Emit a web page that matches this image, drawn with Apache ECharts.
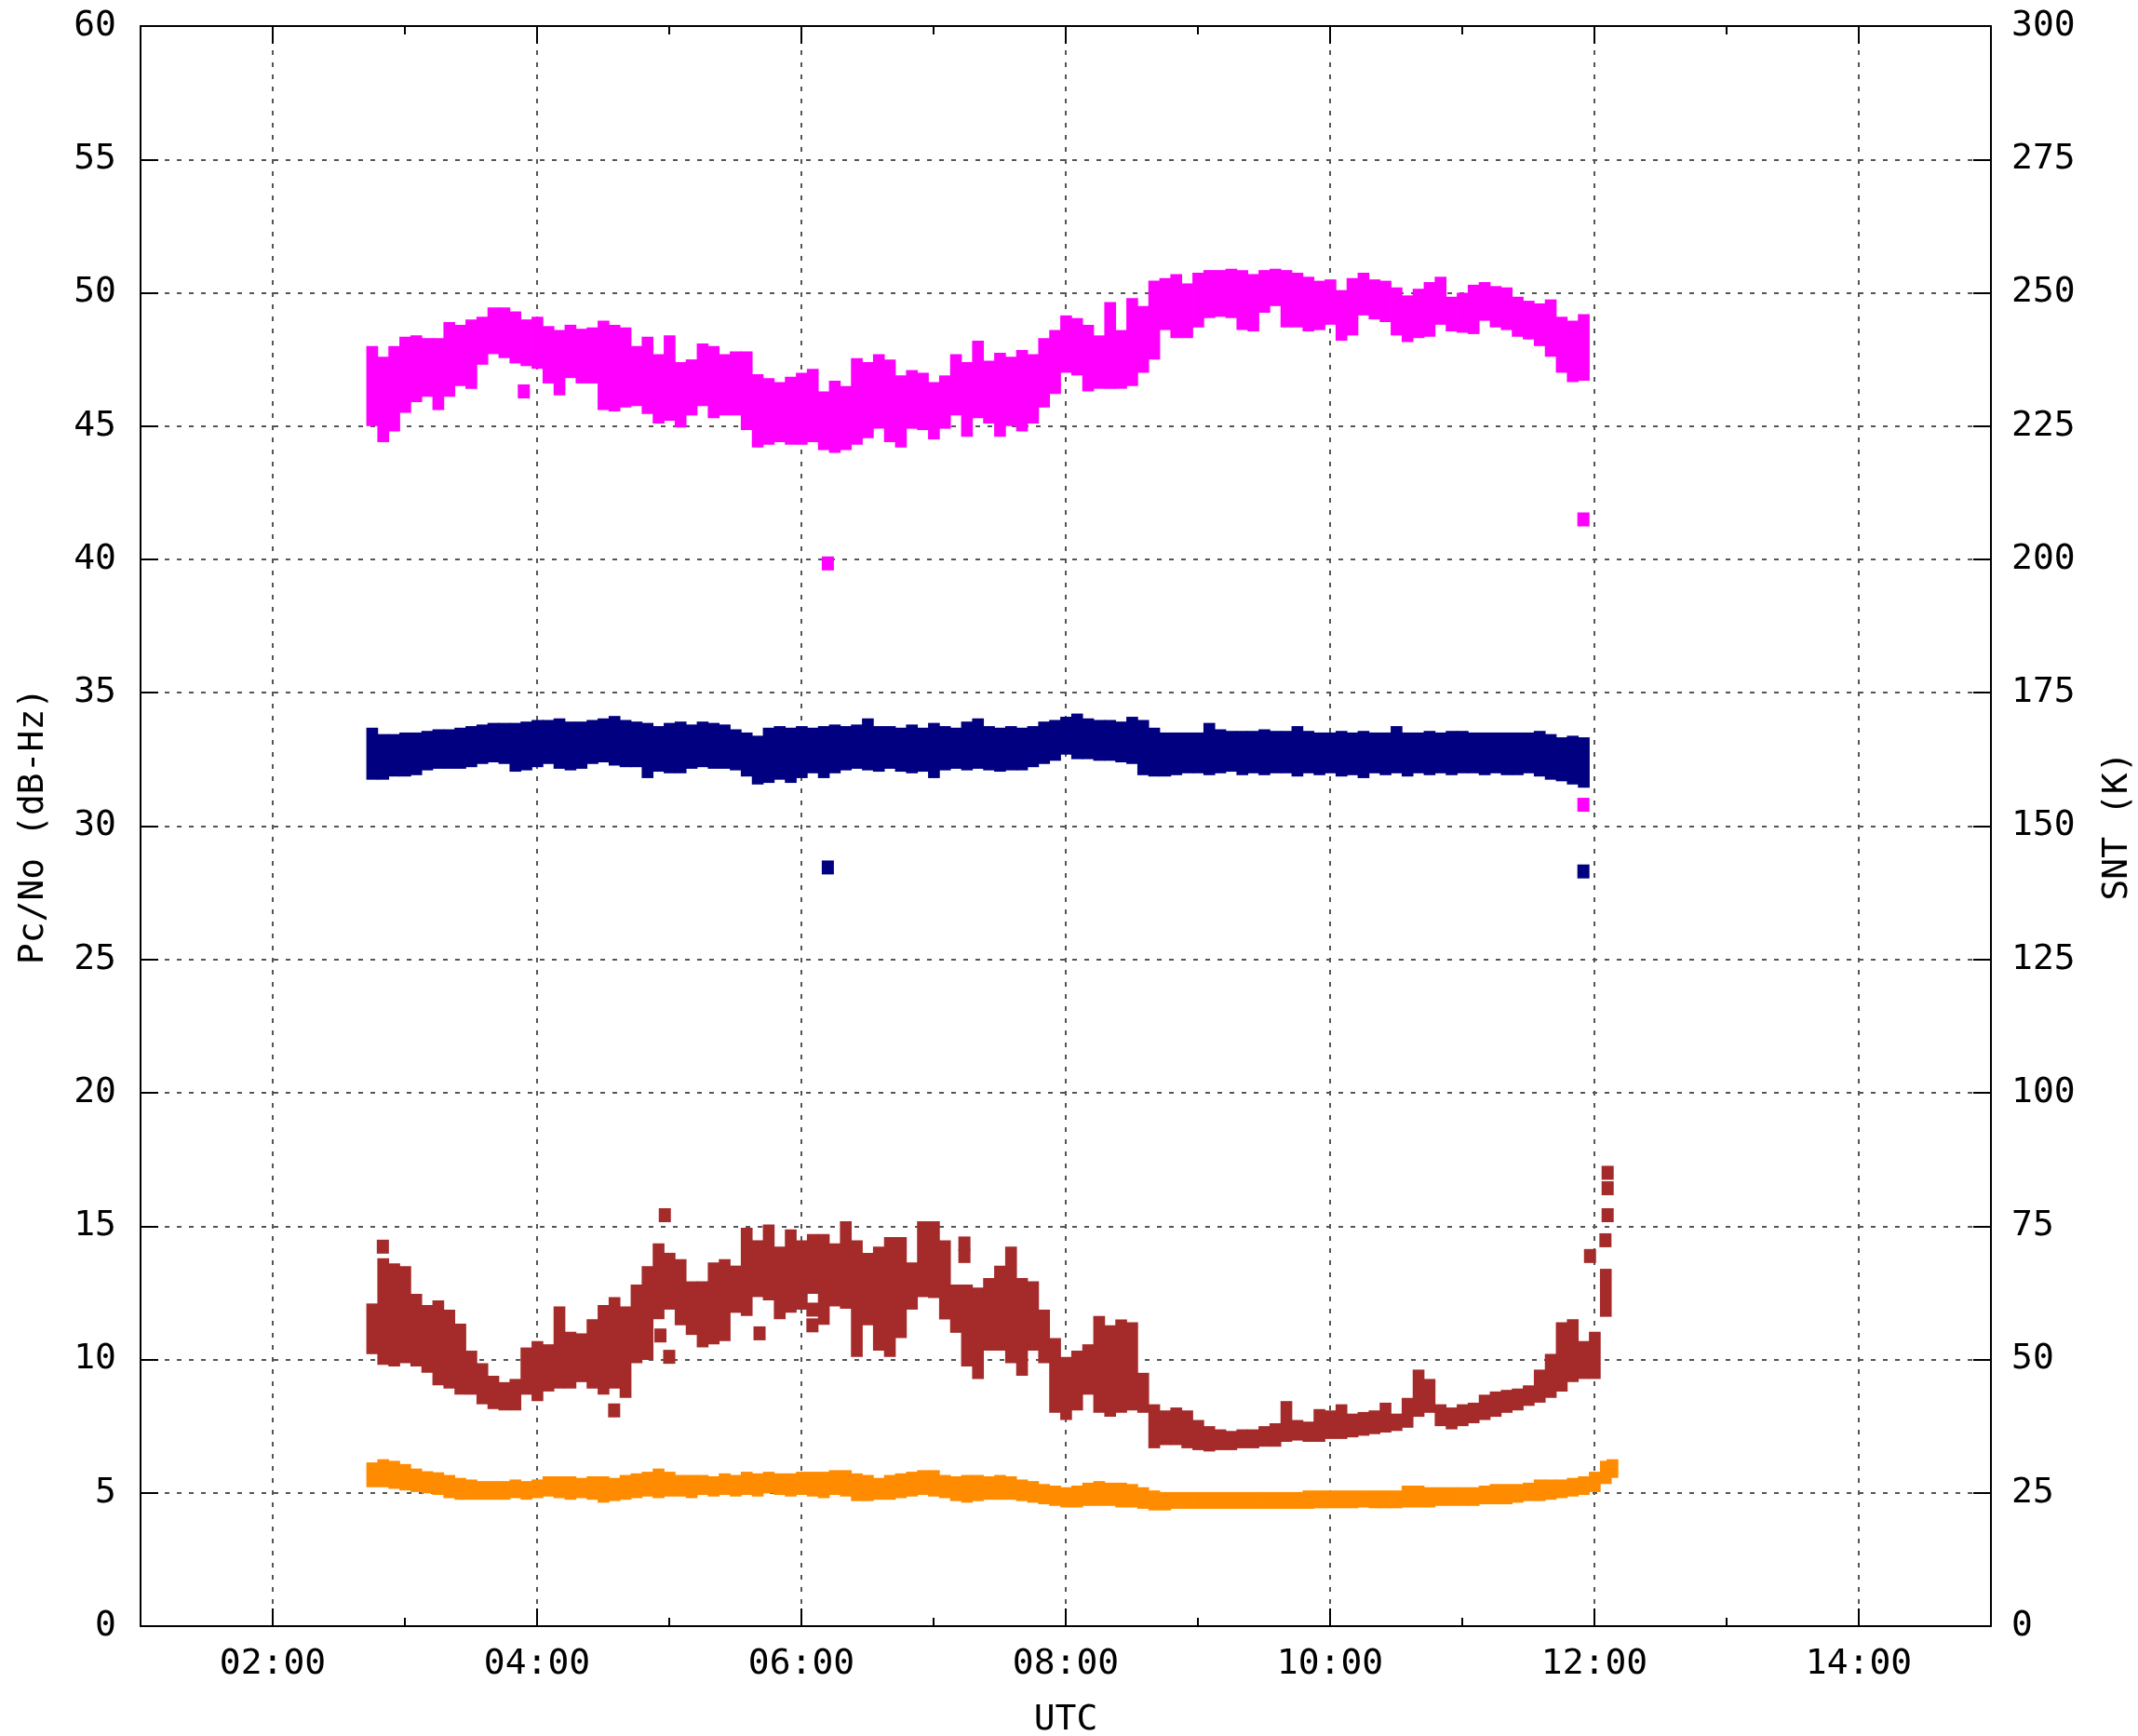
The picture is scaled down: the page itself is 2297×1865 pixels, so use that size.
<!DOCTYPE html>
<html><head><meta charset="utf-8">
<script src="https://cdn.jsdelivr.net/npm/echarts@6/dist/echarts.min.js"></script>
<style>html,body{margin:0;padding:0;background:#fff}#c{width:2297px;height:1865px}</style>
</head><body><div id="c"></div><script>
// Sample times (5-minute bins), UTC
const times = ["02:45","02:50","02:55","03:00","03:05","03:10","03:15","03:20","03:25","03:30","03:35","03:40","03:45","03:50","03:55",
"04:00","04:05","04:10","04:15","04:20","04:25","04:30","04:35","04:40","04:45","04:50","04:55",
"05:00","05:05","05:10","05:15","05:20","05:25","05:30","05:35","05:40","05:45","05:50","05:55",
"06:00","06:05","06:10","06:15","06:20","06:25","06:30","06:35","06:40","06:45","06:50","06:55",
"07:00","07:05","07:10","07:15","07:20","07:25","07:30","07:35","07:40","07:45","07:50","07:55",
"08:00","08:05","08:10","08:15","08:20","08:25","08:30","08:35","08:40","08:45","08:50","08:55",
"09:00","09:05","09:10","09:15","09:20","09:25","09:30","09:35","09:40","09:45","09:50","09:55",
"10:00","10:05","10:10","10:15","10:20","10:25","10:30","10:35","10:40","10:45","10:50","10:55",
"11:00","11:05","11:10","11:15","11:20","11:25","11:30","11:35","11:40","11:45","11:50","11:55",
"12:00","12:05","12:08"];

// Pc/No (dB-Hz), magenta: upper / lower envelope per bin
const magentaHi = [48.0,47.6,48.0,48.35,48.4,48.3,48.3,48.9,48.8,49.0,
49.1,49.45,49.45,49.3,49.0,49.1,48.75,48.6,48.8,48.65,
48.7,48.95,48.8,48.7,48.0,48.35,47.7,48.4,47.4,47.5,
48.1,48.0,47.7,47.8,47.8,46.95,46.8,46.65,46.85,47.0,
47.15,46.3,46.7,46.5,47.55,47.4,47.7,47.5,46.9,47.1,
47.0,46.65,46.9,47.7,47.4,48.2,47.45,
47.75,47.6,47.85,47.7,48.3,48.6,49.15,49.05,48.8,48.4,
49.65,48.6,49.8,49.5,50.45,50.55,50.7,50.35,50.75,50.85,
50.85,50.9,50.85,50.7,50.85,50.9,50.85,50.75,50.6,50.45,
50.5,50.1,50.55,50.75,50.5,50.45,50.2,49.9,50.15,50.4,
50.6,49.85,50.0,50.3,50.4,50.25,50.2,49.85,49.7,49.6,
49.75,49.1,48.95,49.2];
const magentaLo = [45.0,44.4,44.8,45.5,45.9,46.1,45.6,46.1,46.5,46.4,
47.3,47.7,47.55,47.35,47.25,47.15,46.6,46.15,46.8,46.6,
46.6,45.6,45.55,45.7,45.75,45.45,45.1,45.2,44.95,45.4,
45.75,45.3,45.4,45.4,44.85,44.2,44.3,44.4,44.3,44.3,
44.4,44.1,44.0,44.1,44.3,44.55,44.9,44.4,44.2,44.9,
44.85,44.5,44.9,45.4,44.6,45.3,45.1,
44.6,45.0,44.8,45.1,45.7,46.2,47.0,46.9,46.3,46.4,
46.4,46.4,46.5,47.0,47.5,48.6,48.3,48.3,48.7,49.05,
49.1,49.05,48.6,48.55,49.25,49.5,48.7,48.7,48.55,48.6,
48.8,48.2,48.4,49.15,49.0,48.9,48.4,48.15,48.3,48.35,
48.8,48.55,48.5,48.45,48.95,48.7,48.6,48.35,48.25,48.0,
47.6,47.0,46.65,46.7];

// Pc/No (dB-Hz), navy
const navyHi = [33.69,33.45,33.45,33.51,33.51,33.57,33.63,33.63,33.69,33.75,
33.81,33.87,33.87,33.87,33.92,33.98,33.98,34.04,33.92,33.92,
33.98,34.04,34.13,33.98,33.92,33.87,33.75,33.87,33.92,33.81,
33.92,33.87,33.81,33.63,33.51,33.39,33.69,33.75,33.69,33.75,
33.69,33.75,33.81,33.75,33.81,34.04,33.75,33.75,33.69,33.81,
33.69,33.87,33.75,33.69,33.92,34.04,33.75,33.69,33.75,33.69,
33.75,33.92,33.98,34.1,34.22,34.04,33.98,33.98,33.92,34.1,
33.98,33.69,33.51,33.51,33.51,33.51,33.87,33.63,33.57,33.57,
33.57,33.63,33.57,33.57,33.75,33.57,33.51,33.51,33.57,33.51,
33.57,33.51,33.51,33.75,33.51,33.51,33.57,33.51,33.57,33.57,
33.51,33.51,33.51,33.51,33.51,33.51,33.57,33.45,33.33,33.39,
33.33];
const navyLo = [31.74,31.74,31.86,31.86,31.91,32.09,32.15,32.15,32.15,32.21,
32.33,32.39,32.33,32.04,32.09,32.21,32.33,32.15,32.09,32.15,
32.33,32.39,32.27,32.21,32.21,31.8,32.04,31.98,31.98,32.15,
32.21,32.15,32.15,32.09,31.86,31.56,31.62,31.74,31.62,31.8,
31.98,31.8,31.98,32.09,32.15,32.09,32.04,32.15,32.04,31.98,
32.04,31.8,32.09,32.15,32.09,32.15,32.09,32.04,32.09,32.09,
32.21,32.33,32.45,32.68,32.51,32.51,32.45,32.45,32.39,32.33,
31.91,31.86,31.86,31.91,31.98,31.98,31.91,31.98,32.04,31.91,
31.98,31.91,31.98,31.98,31.86,31.98,31.91,31.98,31.86,31.91,
31.8,31.98,31.91,31.98,31.86,31.98,31.91,31.98,31.91,31.98,
31.98,31.91,31.98,31.91,31.91,31.98,31.86,31.74,31.68,31.56,
31.44];

// SNT (K), brown
const brownHi = [60.5,69.0,68.0,67.5,62.3,60.2,61.1,59.35,56.7,51.65,
49.3,46.95,45.75,46.35,52.25,53.45,52.85,59.95,55.2,54.9,
57.55,60.2,61.7,59.95,64.05,67.5,71.75,70.0,68.8,64.65,
64.65,68.2,68.8,67.6,74.7,72.35,75.3,71.15,74.4,72.35,
73.5,73.5,71.75,75.9,72.35,70.0,71.15,72.95,72.95,68.2,
75.9,75.9,72.35,64.05,64.05,63.5,65.25,
67.6,71.15,65.25,64.65,59.35,54.0,50.5,51.65,52.85,58.15,
56.4,57.5,57.0,47.5,41.6,40.45,41.0,40.45,38.65,37.5,
36.9,36.6,36.9,36.9,37.5,38.05,42.2,38.65,38.35,40.7,
40.45,41.6,39.85,40.15,40.45,41.9,39.85,42.8,48.1,46.35,
41.6,41.0,41.6,41.9,43.4,44.0,44.3,44.55,45.15,48.1,
51.05,57.0,57.55,53.45,55.2,67.0];
const brownLo = [51.0,49.0,48.7,49.3,48.7,47.5,45.15,44.55,43.4,43.4,
41.6,40.7,40.45,40.45,43.4,42.2,44.0,44.55,44.55,45.75,
44.55,43.4,44.55,42.8,49.3,49.9,57.55,59.35,56.4,54.6,
52.25,52.85,53.45,58.75,58.15,61.7,61.1,57.55,58.75,59.35,
62.3,56.5,59.95,59.5,50.5,56.4,51.65,50.5,54.0,59.35,
61.7,61.5,57.5,55.0,48.7,46.35,51.65,
51.65,49.3,46.95,51.65,49.3,40.0,38.65,40.45,43.4,40.0,
39.25,40.0,40.45,40.0,33.35,33.95,33.95,33.35,33.0,32.75,
33.0,33.0,33.35,33.35,33.65,33.65,34.55,34.8,34.55,34.55,
35.1,35.1,35.4,35.7,36.0,36.3,36.6,37.2,39.25,40.0,
37.5,36.9,37.5,38.05,38.65,39.25,40.0,40.45,41.3,41.9,
42.8,44.0,45.75,46.35,46.35,58.0];

// SNT (K), orange
const orangeHi = [30.7,31.3,31.0,30.4,29.55,29.05,28.85,28.35,27.8,27.5,
27.2,27.2,27.2,27.5,27.2,27.5,28.1,28.1,28.1,27.8,
28.1,28.1,27.8,28.35,28.65,28.95,29.55,28.95,28.35,28.35,
28.35,28.1,28.65,28.35,28.95,28.65,28.95,28.65,28.65,28.95,
28.95,28.95,29.25,29.25,28.65,28.35,27.8,28.35,28.65,28.95,
29.25,29.25,28.35,28.1,28.35,28.35,28.1,28.35,28.1,27.5,
27.2,26.65,26.35,26.05,26.35,26.9,27.2,26.9,26.9,26.65,
26.05,25.45,25.15,25.15,25.15,25.15,25.15,25.15,25.15,25.15,
25.15,25.15,25.15,25.15,25.15,25.45,25.45,25.45,25.45,25.45,
25.45,25.45,25.45,25.45,26.35,26.35,26.05,26.05,26.05,26.05,
26.05,26.35,26.65,26.65,26.65,26.9,27.5,27.5,27.5,27.8,
28.1,28.95,31.0,31.3];
const orangeLo = [26.05,26.05,25.75,25.45,25.15,24.9,24.6,24.0,23.7,23.7,
23.7,23.7,23.7,24.0,23.7,24.0,24.3,24.0,23.7,24.0,
23.7,23.15,23.45,23.7,24.0,24.3,24.0,24.3,24.3,24.0,
24.6,24.3,24.6,24.3,24.6,24.3,24.9,24.6,24.3,24.6,
24.3,24.0,24.6,24.3,23.45,23.45,23.7,23.7,24.0,24.3,
24.6,24.3,24.0,23.45,23.15,23.45,23.7,23.7,23.7,23.45,
23.15,22.85,22.55,22.25,22.25,22.55,22.55,22.55,22.25,22.25,
22.0,21.7,21.7,22.0,22.0,22.0,22.0,22.0,22.0,22.0,
22.0,22.0,22.0,22.0,22.0,22.0,22.1,22.1,22.1,22.1,
22.25,22.1,22.1,22.1,22.25,22.25,22.25,22.55,22.55,22.55,
22.55,22.85,22.85,22.85,23.15,23.45,23.45,23.7,24.0,24.3,
24.6,25.15,26.65,27.8];

// Isolated points
const magentaPts = [["03:54",46.3],["06:12",39.85],["11:55",41.5],["11:55",30.8]];
const navyPts = [["06:12",28.45],["11:55",28.3]];
const brownPts = [["02:50",71.15],["04:35",40.45],["04:56",54.5],["04:58",77.05],["05:00",50.5],
["05:41",54.9],["06:05",59.35],["06:05",56.4],["07:14",71.75],["07:14",69.4],
["11:58",69.4],["12:05",72.35],["12:06",77.05],["12:06",82.1],["12:06",85.0]];

const xLabelHours = [2,4,6,8,10,12,14];

function toH(s){ const p = s.split(':'); return +p[0] + (+p[1])/60; }
function band(hi, lo){ return hi.map((v,i)=>[toH(times[i]), lo[i], v]); }
function pts(a){ return a.map(d=>[toH(d[0]), d[1]]); }
function fmt(v){ const h = Math.round(v); return (h<10?'0':'')+h+':00'; }

const HALF = 2.5/60;
function renderBand(params, api){
  const t = api.value(0), lo = api.value(1), hi = api.value(2);
  const a = api.coord([t-HALF, hi]), b = api.coord([t+HALF, lo]);
  return {type:'rect', shape:{x:a[0], y:a[1], width:b[0]-a[0]+0.8, height:b[1]-a[1]},
          style:{fill:api.visual('color')}};
}

const FONT = 'DejaVu Sans Mono';
const txt = {fontFamily:FONT, fontSize:38, color:'#000'};
const gridLine = {show:true, lineStyle:{type:[5,8], color:'#555', width:2}};
const blackLine = {color:'#000', width:2};

function bandSeries(name, hi, lo, color, yIdx){
  return {name, type:'custom', xAxisIndex:0, yAxisIndex:yIdx, renderItem:renderBand,
    itemStyle:{color}, encode:{x:0, y:[1,2]}, data:band(hi, lo), silent:true};
}
function ptSeries(name, arr, color, yIdx){
  return {name, type:'scatter', xAxisIndex:0, yAxisIndex:yIdx, symbol:'rect', symbolSize:[13,15],
    itemStyle:{color, opacity:1}, data:pts(arr), silent:true};
}

const chart = echarts.init(document.getElementById('c'), null, {renderer:'canvas'});
chart.setOption({
  animation:false,
  backgroundColor:'#fff',
  grid:{left:151, right:158, top:28, bottom:118, containLabel:false, outerBoundsMode:'none'},
  xAxis:[
    {type:'value', min:1, max:15, position:'bottom',
     axisLine:{show:true, onZero:false, lineStyle:blackLine},
     axisTick:{show:true, inside:true, length:19, customValues:xLabelHours, lineStyle:blackLine},
     axisLabel:{show:true, customValues:xLabelHours, formatter:fmt, margin:22, ...txt},
     splitLine:gridLine,
     name:'UTC', nameLocation:'middle', nameGap:82, nameTextStyle:txt},
    {type:'value', min:1, max:15, position:'top',
     axisLine:{show:true, onZero:false, lineStyle:blackLine},
     axisTick:{show:true, inside:true, length:19, customValues:xLabelHours, lineStyle:blackLine},
     axisLabel:{show:false}, splitLine:{show:false}},
    {type:'value', min:1, max:15, interval:1, position:'bottom',
     axisLine:{show:false, onZero:false},
     axisTick:{show:true, inside:true, length:9, lineStyle:blackLine},
     axisLabel:{show:false}, splitLine:{show:false}},
    {type:'value', min:1, max:15, interval:1, position:'top',
     axisLine:{show:false, onZero:false},
     axisTick:{show:true, inside:true, length:9, lineStyle:blackLine},
     axisLabel:{show:false}, splitLine:{show:false}}
  ],
  yAxis:[
    {type:'value', min:0, max:60, interval:5, position:'left',
     axisLine:{show:true, onZero:false, lineStyle:blackLine},
     axisTick:{show:true, inside:true, length:19, lineStyle:blackLine},
     axisLabel:{show:true, margin:26, ...txt},
     splitLine:gridLine,
     name:'Pc/No (dB-Hz)', nameLocation:'middle', nameRotate:90, nameGap:96, nameTextStyle:txt},
    {type:'value', min:0, max:300, interval:25, position:'right',
     axisLine:{show:true, onZero:false, lineStyle:blackLine},
     axisTick:{show:true, inside:true, length:19, lineStyle:blackLine},
     axisLabel:{show:true, margin:22, ...txt},
     splitLine:{show:false},
     name:'SNT (K)', nameLocation:'middle', nameRotate:90, nameGap:117, nameTextStyle:txt}
  ],
  series:[
    bandSeries('Pc/No A', magentaHi, magentaLo, '#ff00ff', 0),
    bandSeries('Pc/No B', navyHi, navyLo, '#000080', 0),
    bandSeries('SNT A', brownHi, brownLo, '#a52a2a', 1),
    bandSeries('SNT B', orangeHi, orangeLo, '#ff8c00', 1),
    ptSeries('Pc/No A pts', magentaPts, '#ff00ff', 0),
    ptSeries('Pc/No B pts', navyPts, '#000080', 0),
    ptSeries('SNT A pts', brownPts, '#a52a2a', 1)
  ]
});
</script></body></html>
